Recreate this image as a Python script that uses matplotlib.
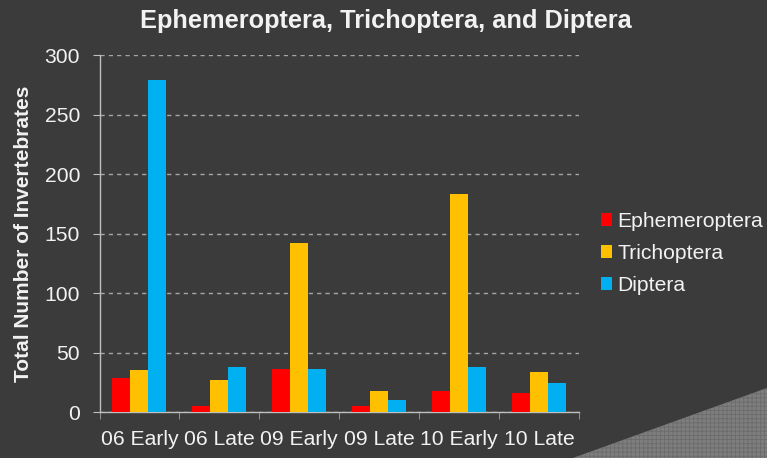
import numpy as np
import matplotlib.pyplot as plt
from matplotlib.patches import Polygon

plt.rcParams['font.family'] = ['Liberation Sans', 'DejaVu Sans']
plt.rcParams['hatch.linewidth'] = 0.6

# data
periods = ["06 Early", "06 Late", "09 Early", "09 Late", "10 Early", "10 Late"]
ephemeroptera = [29, 5, 36, 5, 18, 16]
trichoptera = [35, 27, 142, 18, 183, 34]
diptera = [279, 38, 36, 10, 38, 24]

series_names = ["Ephemeroptera", "Trichoptera", "Diptera"]
series_colors = ["#FF0000", "#FFC000", "#00B0F0"]

bg = "#3b3b3b"
text_col = "#f2f2f2"

fig = plt.figure(figsize=(7.67, 4.58), dpi=100, facecolor=bg)
ax = fig.add_axes([99.5 / 767, 1 - 412 / 458, (579 - 99.5) / 767, (412 - 55.3) / 458])
ax.set_facecolor(bg)

x = np.arange(len(periods))
width = 0.225
for i, (vals, name, col) in enumerate(zip([ephemeroptera, trichoptera, diptera],
                                          series_names, series_colors)):
    ax.bar(x + (i - 1) * width, vals, width, color=col, label=name, zorder=3)

ax.set_xlim(-0.5, len(periods) - 0.5)
ax.set_ylim(0, 300)
ax.set_yticks(range(0, 301, 50))

# tick marks on category boundaries, labels at centers
ax.set_xticks(np.arange(-0.5, len(periods), 1.0))
ax.set_xticklabels([])
ax.set_xticks(x, minor=True)
ax.set_xticklabels(periods, minor=True)
ax.tick_params(axis='x', which='major', direction='out', length=5, color='#8c8c8c')
ax.tick_params(axis='x', which='minor', length=0, pad=13, labelsize=15.2, labelcolor=text_col)
ax.tick_params(axis='y', direction='out', length=5, color='#bfbfbf', pad=9,
               labelsize=15.2, labelcolor=text_col)

ax.grid(axis='y', color='#a6a6a6', linestyle=(0, (3, 3)), linewidth=1.0, zorder=0)
for side in ['top', 'right']:
    ax.spines[side].set_visible(False)
for side in ['left', 'bottom']:
    ax.spines[side].set_color('#bfbfbf')
    ax.spines[side].set_linewidth(1.0)

fig.text(386 / 767, 1 - 21 / 458, "Ephemeroptera, Trichoptera, and Diptera",
         ha='center', va='center', fontsize=18.3, fontweight='bold', color=text_col)
fig.text(24 / 767, 1 - 234 / 458, "Total Number of Invertebrates",
         ha='center', va='center', rotation=90, fontsize=15, fontweight='bold',
         color=text_col)

leg = ax.legend(loc='center left', bbox_to_anchor=(601 / 767, 1 - 253.5 / 458),
                bbox_transform=fig.transFigure, frameon=False, fontsize=15.2,
                handlelength=0.52, handleheight=0.52, handletextpad=0.25,
                labelspacing=0.62, borderpad=0, borderaxespad=0)
for t in leg.get_texts():
    t.set_color(text_col)

# page curl in the bottom-right corner
curl = Polygon([(573 / 767, 0), (1, 70 / 458), (1, 0)], closed=True,
               transform=fig.transFigure, facecolor='#7e7e7e', edgecolor='#6b6b6b',
               hatch='++++', linewidth=0)
fig.patches.append(curl)

fig.savefig("out.png", dpi=100, facecolor=bg)
